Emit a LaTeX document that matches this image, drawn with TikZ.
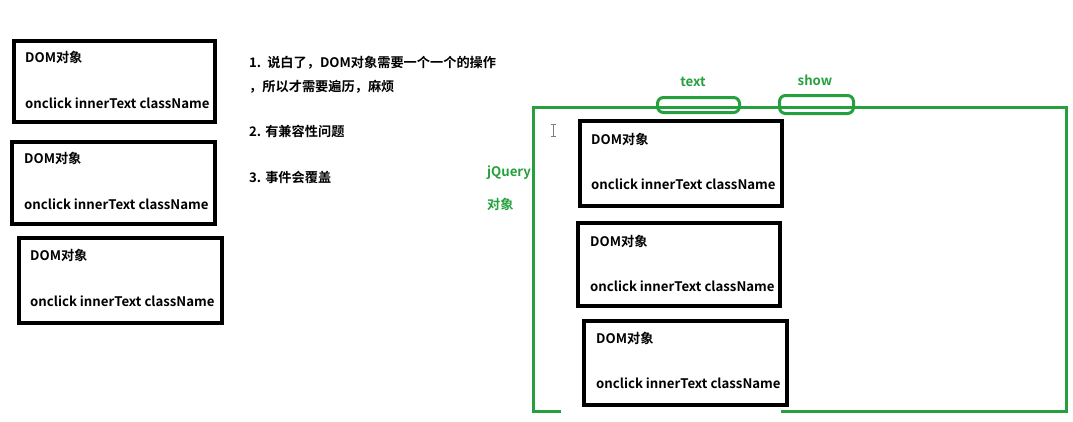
\documentclass[tikz,border=0pt]{standalone}
\usepackage{fontspec}
\setmainfont{Noto Sans CJK SC}[BoldFont=Noto Sans CJK SC Bold]
\definecolor{jqgreen}{RGB}{38,160,62}
\begin{document}
\begin{tikzpicture}[x=1pt,y=-1pt,
  dombox/.style={draw=black,line width=4pt,anchor=north west,inner sep=0pt},
  lbl/.style={anchor=west,inner sep=0pt,font=\fontsize{13.2}{15}\selectfont\bfseries},
  glbl/.style={lbl,text=jqgreen},
  gline/.style={draw=jqgreen,line width=3pt},
  oval/.style={draw=jqgreen,line width=3pt,rounded corners=6pt,inner sep=0pt,anchor=north west}]
\useasboundingbox (0,0) rectangle (1073,421);
% left DOM boxes
\node[dombox,minimum width=201pt,minimum height=81pt] (b1) at (12,39) {};
\node[lbl] (b1t) at (25,57) {DOM对象};
\node[lbl] (b1p) at (25,103) {onclick innerText className};
\node[dombox,minimum width=203pt,minimum height=82pt] (b2) at (10,140) {};
\node[lbl] (b2t) at (24,158) {DOM对象};
\node[lbl] (b2p) at (24,204) {onclick innerText className};
\node[dombox,minimum width=203pt,minimum height=85pt] (b3) at (17,236) {};
\node[lbl] (b3t) at (30,255) {DOM对象};
\node[lbl] (b3p) at (30,301) {onclick innerText className};
% notes
\node[lbl] (n1) at (249,63) {1.\ \ 说白了，DOM对象需要一个一个的操作};
\node[lbl] (n1b) at (249,87) {，所以才需要遍历，麻烦};
\node[lbl] (n2) at (249,131) {2. 有兼容性问题};
\node[lbl] (n3) at (249,177) {3. 事件会覆盖};
% jQuery label
\node[glbl] (jq) at (487,173) {jQuery};
\node[glbl] (jq2) at (487,204) {对象};
% green container
\coordinate (gbl) at (561,411);
\coordinate (gbr) at (781,411);
\draw[gline] (gbl) -- (533,411) -- (533,107) -- (1066,107) -- (1066,411) -- (gbr);
% ovals
\node[oval,minimum width=82pt,minimum height=15pt] (ot) at (656,96) {};
\node[oval,minimum width=74pt,minimum height=18pt] (os) at (778,94) {};
\node[glbl,anchor=center] (tt) at (693,82) {text};
\node[glbl,anchor=center] (ts) at (815,80) {show};
% cursor
\draw[gray,line width=0.8pt] (553,124) -- (553,136) (550.5,124) -- (555.5,124) (550.5,136) -- (555.5,136);
% right DOM boxes
\node[dombox,minimum width=202pt,minimum height=85pt] (r1) at (578,119) {};
\node[lbl] (r1t) at (591,139) {DOM对象};
\node[lbl] (r1p) at (591,184) {onclick innerText className};
\node[dombox,minimum width=202pt,minimum height=83pt] (r2) at (576,221) {};
\node[lbl] (r2t) at (590,241) {DOM对象};
\node[lbl] (r2p) at (590,286) {onclick innerText className};
\node[dombox,minimum width=203pt,minimum height=84pt] (r3) at (582,319) {};
\node[lbl] (r3t) at (596,338) {DOM对象};
\node[lbl] (r3p) at (596,383) {onclick innerText className};
\end{tikzpicture}
\end{document}
